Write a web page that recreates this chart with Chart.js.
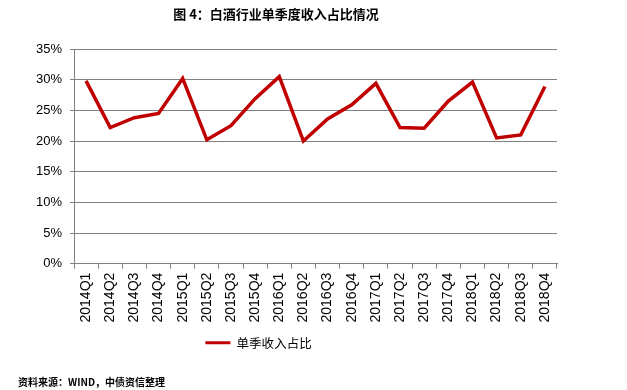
<!DOCTYPE html>
<html>
<head>
<meta charset="utf-8">
<script src="https://cdn.jsdelivr.net/npm/chart.js@4.4.0/dist/chart.umd.min.js"></script>
<style>
  html, body { margin: 0; padding: 0; background: #fff; }
  #wrap { position: relative; width: 627px; height: 390px; }
  #title { position: absolute; left: 0; width: 552px; top: 4px; text-align: center;
           font: bold 13px "Noto Sans CJK SC", sans-serif; color: #000; }
  #source { position: absolute; left: 18px; top: 374px;
           font: bold 10px "Noto Sans CJK SC", sans-serif; color: #000; }
  canvas { position: absolute; left: 0; top: 0; }
</style>
</head>
<body>
<div id="wrap">
  <canvas id="c" width="627" height="390"></canvas>
  <div id="title">图 4：白酒行业单季度收入占比情况</div>
  <div id="source">资料来源：WIND，中债资信整理</div>
</div>
<script>
const categories = ["2014Q1","2014Q2","2014Q3","2014Q4","2015Q1","2015Q2","2015Q3","2015Q4",
  "2016Q1","2016Q2","2016Q3","2016Q4","2017Q1","2017Q2","2017Q3","2017Q4",
  "2018Q1","2018Q2","2018Q3","2018Q4"];
const seriesName = "单季收入占比";
const shareValues = [29.8, 22.2, 23.8, 24.5, 30.2, 20.2, 22.5, 26.9,
  30.5, 20.0, 23.6, 25.9, 29.4, 22.2, 22.1, 26.5,
  29.6, 20.5, 21.0, 28.9];
const yTicks = [0, 5, 10, 15, 20, 25, 30, 35];

const legendShift = {
  id: 'legendShift',
  afterLayout(chart) {
    const L = chart.legend;
    const dx = -20;
    L.left += dx; L.right += dx;
  }
};

new Chart(document.getElementById('c'), {
  type: 'line',
  data: {
    labels: categories,
    datasets: [{
      label: seriesName,
      data: shareValues,
      borderColor: '#C00000',
      backgroundColor: '#C00000',
      borderWidth: 3.5,
      pointRadius: 0,
      tension: 0,
      fill: false
    }]
  },
  options: {
    responsive: false,
    animation: false,
    layout: { padding: { top: 49, right: 70, left: 0, bottom: 31 } },
    plugins: {
      legend: {
        position: 'bottom',
        labels: {
          boxWidth: 25,
          boxHeight: 3,
          color: '#333',
          font: { family: '"Noto Sans CJK SC", sans-serif', size: 12.5 },
          padding: 10,
          generateLabels(chart) {
            return chart.data.datasets.map((d, i) => ({
              text: d.label, fillStyle: d.borderColor, strokeStyle: d.borderColor,
              lineWidth: 0, datasetIndex: i, hidden: false
            }));
          }
        }
      },
      tooltip: { enabled: false }
    },
    scales: {
      x: {
        offset: true,
        grid: { offset: true, drawOnChartArea: false, drawTicks: true, tickLength: 5, color: '#808080' },
        border: { display: true, color: '#808080', width: 1 },
        ticks: {
          autoSkip: false, maxRotation: 90, minRotation: 90, padding: 4,
          color: '#000', font: { family: '"Liberation Sans", Arial, sans-serif', size: 14 }
        }
      },
      y: {
        min: 0, max: 35,
        afterFit(axis) { axis.width = 74; },
        afterBuildTicks(axis) { axis.ticks = yTicks.map(v => ({ value: v })); },
        grid: { color: '#808080', lineWidth: 1, tickLength: 4 },
        border: { display: true, color: '#808080', width: 1 },
        ticks: {
          padding: 8,
          color: '#000', font: { family: '"Liberation Sans", Arial, sans-serif', size: 13 },
          callback: v => v + '%'
        }
      }
    }
  },
  plugins: [legendShift]
});
</script>
</body>
</html>
